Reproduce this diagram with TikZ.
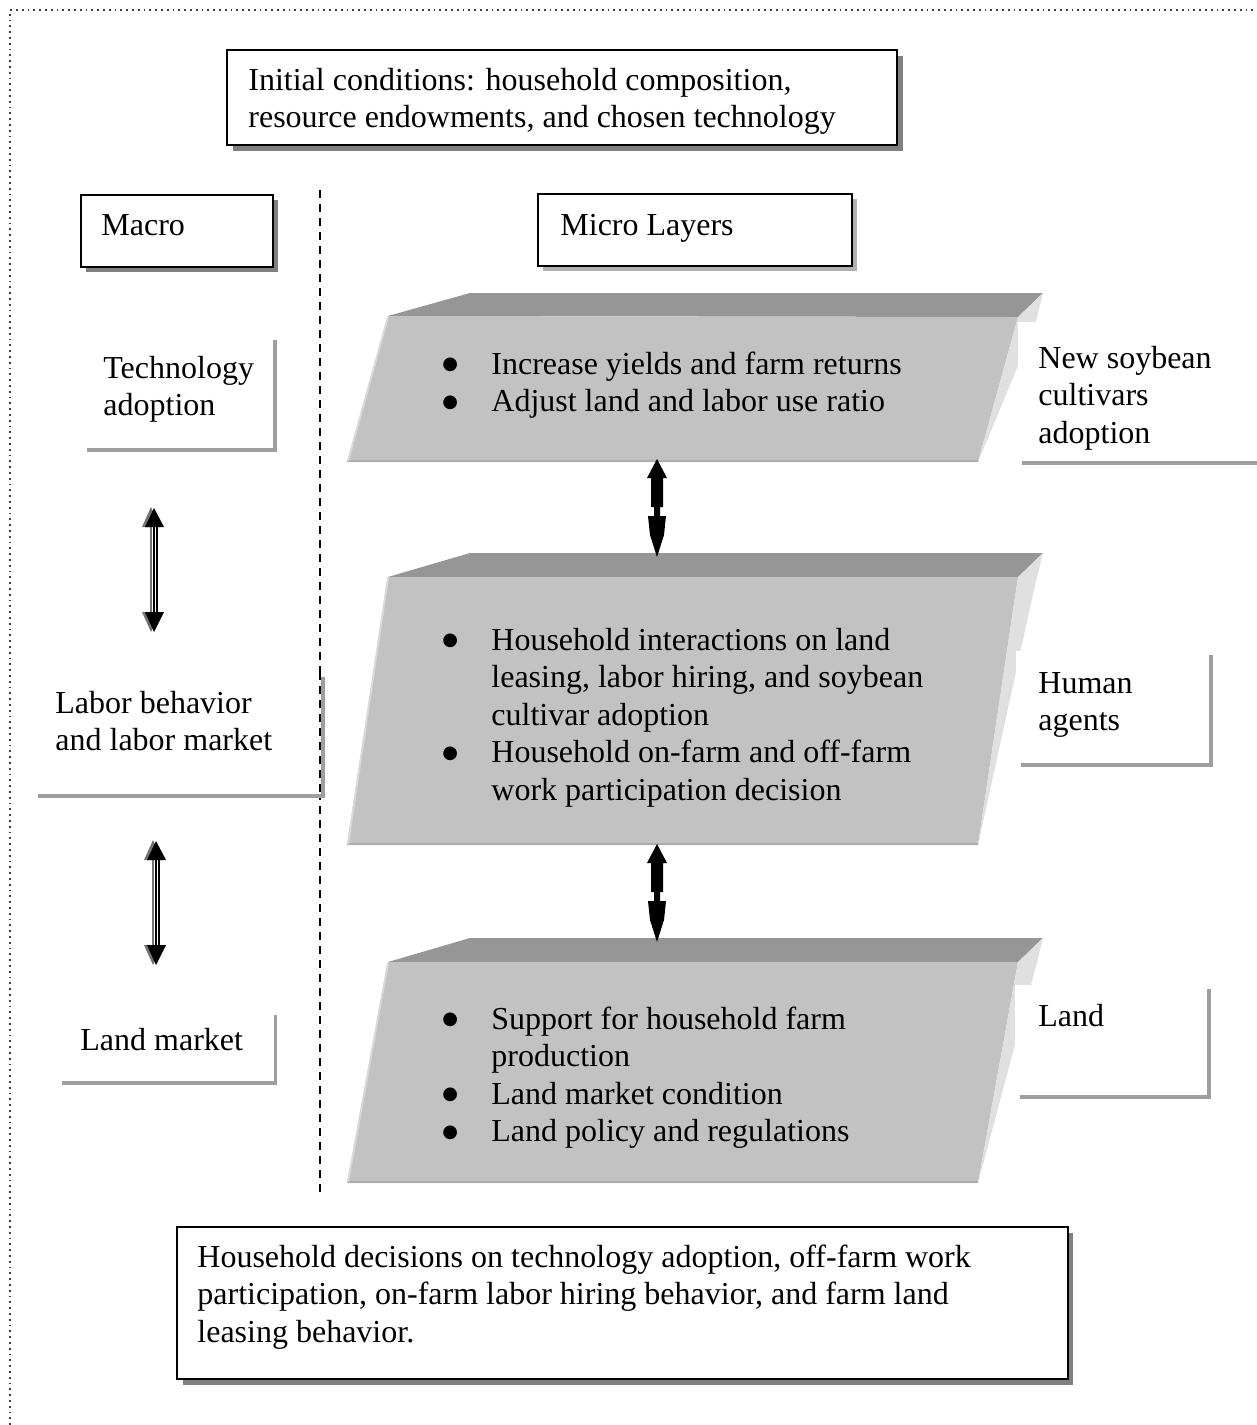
\documentclass[tikz,border=0pt]{standalone}
\usepackage{fontspec}
\setmainfont{Liberation Serif}
\newfontfamily\bulfont{DejaVu Sans}
\newcommand{\bigbul}{\makebox[25.5pt][l]{\hspace{1pt}\raisebox{2.2pt}{\bulfont\fontsize{9}{9}\selectfont ●}}}
\begin{document}
\begin{tikzpicture}[x=0.5pt,y=-0.5pt,
  txt/.style={anchor=base west,inner sep=0pt,font=\fontsize{16}{18.75}\selectfont},
  boxline/.style={draw=black,line width=1pt,fill=white},
  darkshadow/.style={fill=black!50},
  lightshadow/.style={fill=black!30},
  labshadow/.style={fill=black!38},
  frontface/.style={fill=black!24},
  topface/.style={fill=black!41},
  sideface/.style={fill=black!12},
  blockarrow/.pic={
    \fill[black] (0,0) -- (10,19) -- (6,19) -- (6,48) -- (3,48) -- (3,57) -- (9,57)
      -- (7,76) -- (0,98) -- (-7,76) -- (-9,57) -- (-3,57) -- (-3,48) -- (-6,48)
      -- (-6,19) -- (-10,19) -- cycle;
  },
  thinarrow/.pic={
    \draw[black!55,line width=1.2pt] (-3,16) -- (-3,109);
    \draw[black,line width=0.8pt] (0,16) -- (0,109);
    \draw[black,line width=0.9pt] (3,16) -- (3,109);
    \fill[black!55] (-3,0) -- (-12,20) -- (6,20) -- cycle;
    \fill[black] (0,1) -- (10,20) -- (-9,20) -- cycle;
    \fill[black!55] (-3,125) -- (-12,105) -- (6,105) -- cycle;
    \fill[black] (0,125) -- (10,105) -- (-9,105) -- cycle;
  }
]
\useasboundingbox (0,0) rectangle (1257,1425);
\fill[white] (0,0) rectangle (1257,1425);

% dotted frame (top and left)
\draw[dotted,line width=0.9pt,black!75] (10,1425) -- (10,10) -- (1257,10);

% dashed divider
\draw[dashed,line width=1pt,dash pattern=on 4pt off 3pt] (320,190) -- (320,1195);

% ---------- top box
\fill[darkshadow] (233,56) rectangle (903,151);
\draw[boxline] (227,50) rectangle (897,145);
\node[txt] (init) at (248,90) {\begin{tabular}[t]{@{}l@{}}Initial conditions: household composition,\\resource endowments, and chosen technology\end{tabular}};

% ---------- Macro / Micro boxes
\fill[darkshadow] (86,200) rectangle (278,272);
\draw[boxline] (81,195) rectangle (273,267);
\node[txt] (macro) at (101,235) {Macro};

\fill[lightshadow] (543,199) rectangle (857,271);
\draw[boxline] (538,194) rectangle (852,266);
\node[txt] (micro) at (560,235) {Micro Layers};

% ---------- slabs
% layer 1
\fill[topface] (388,316) -- (470,293) -- (1043,293) -- (1018,317) -- cycle;
\fill[frontface] (388,316) -- (1018,317) -- (978,462) -- (347,462) -- cycle;
\fill[sideface] (1018,317) -- (1043,293) -- (1035,325) -- (978,462) -- cycle;
\draw[black!32,line width=1.2pt] (347,461) -- (978,461);
\draw[black!15,line width=1pt] (388,317) -- (348,461);
% layer 2
\fill[topface] (388,577) -- (470,553) -- (1043,553) -- (1018,577) -- cycle;
\fill[frontface] (388,577) -- (1018,577) -- (978,845) -- (347,845) -- cycle;
\fill[sideface] (1018,577) -- (1043,553) -- (1035,585) -- (978,845) -- cycle;
\draw[black!32,line width=1.2pt] (347,844) -- (978,844);
\draw[black!15,line width=1pt] (388,578) -- (348,844);
% layer 3
\fill[topface] (388,962) -- (470,938) -- (1043,938) -- (1018,962) -- cycle;
\fill[frontface] (388,962) -- (1018,962) -- (978,1183) -- (347,1183) -- cycle;
\fill[sideface] (1018,962) -- (1043,938) -- (1035,970) -- (978,1183) -- cycle;
\draw[black!32,line width=1.2pt] (347,1182) -- (978,1182);
\draw[black!15,line width=1pt] (388,963) -- (348,1182);

% layer texts
\node[txt] (l1) at (440,374) {\begin{tabular}[t]{@{}l@{}l@{}}\bigbul&Increase yields and farm returns\\
\bigbul&Adjust land and labor use ratio\end{tabular}};
\node[txt] (l2) at (440,650) {\begin{tabular}[t]{@{}l@{}l@{}}\bigbul&Household interactions on land\\
&leasing, labor hiring, and soybean\\
&cultivar adoption\\
\bigbul&Household on-farm and off-farm\\
&work participation decision\end{tabular}};
\node[txt] (l3) at (440,1029) {\begin{tabular}[t]{@{}l@{}l@{}}\bigbul&Support for household farm\\
&production\\
\bigbul&Land market condition\\
\bigbul&Land policy and regulations\end{tabular}};

% ---------- right labels
\fill[labshadow] (1022,326) rectangle (1262,465);
\fill[white] (1018,322) rectangle (1262,461);
\node[txt] (soy) at (1038,368) {\begin{tabular}[t]{@{}l@{}}New soybean\\cultivars\\adoption\end{tabular}};

\fill[labshadow] (1021,655) rectangle (1213,767);
\fill[white] (1016,651) rectangle (1209,763);
\node[txt] (human) at (1038,693) {\begin{tabular}[t]{@{}l@{}}Human\\agents\end{tabular}};

\fill[labshadow] (1020,989) rectangle (1211,1099);
\fill[white] (1015,985) rectangle (1207,1095);
\node[txt] (land) at (1038,1026) {Land};

% ---------- left labels
\fill[labshadow] (87,340) rectangle (277,452);
\fill[white] (82,336) rectangle (273,448);
\node[txt] (tech) at (103,378) {\begin{tabular}[t]{@{}l@{}}Technology\\adoption\end{tabular}};

\fill[labshadow] (38,677) rectangle (325,798);
\fill[white] (33,672) rectangle (321,794);
\node[txt] (labor) at (55,713) {\begin{tabular}[t]{@{}l@{}}Labor behavior\\and labor market\end{tabular}};
\draw[dashed,line width=1pt,dash pattern=on 4pt off 3pt] (320,672) -- (320,794);

\fill[labshadow] (62,1015) rectangle (277,1085);
\fill[white] (57,1010) rectangle (274,1081);
\node[txt] (landm) at (80,1050) {Land market};

% ---------- arrows
\coordinate (a1) at (657,459);
\coordinate (a2) at (657,844);
\pic at (a1) {blockarrow};
\pic at (a2) {blockarrow};
\coordinate (b1) at (154,507);
\coordinate (b2) at (156,840);
\pic at (b1) {thinarrow};
\pic at (b2) {thinarrow};

% ---------- bottom box
\fill[darkshadow] (183,1233) rectangle (1073,1385);
\draw[boxline] (177,1227) rectangle (1068,1379);
\node[txt] (bottom) at (197,1267) {\begin{tabular}[t]{@{}l@{}}Household decisions on technology adoption, off-farm work\\participation, on-farm labor hiring behavior, and farm land\\leasing behavior.\end{tabular}};
\end{tikzpicture}
\end{document}
